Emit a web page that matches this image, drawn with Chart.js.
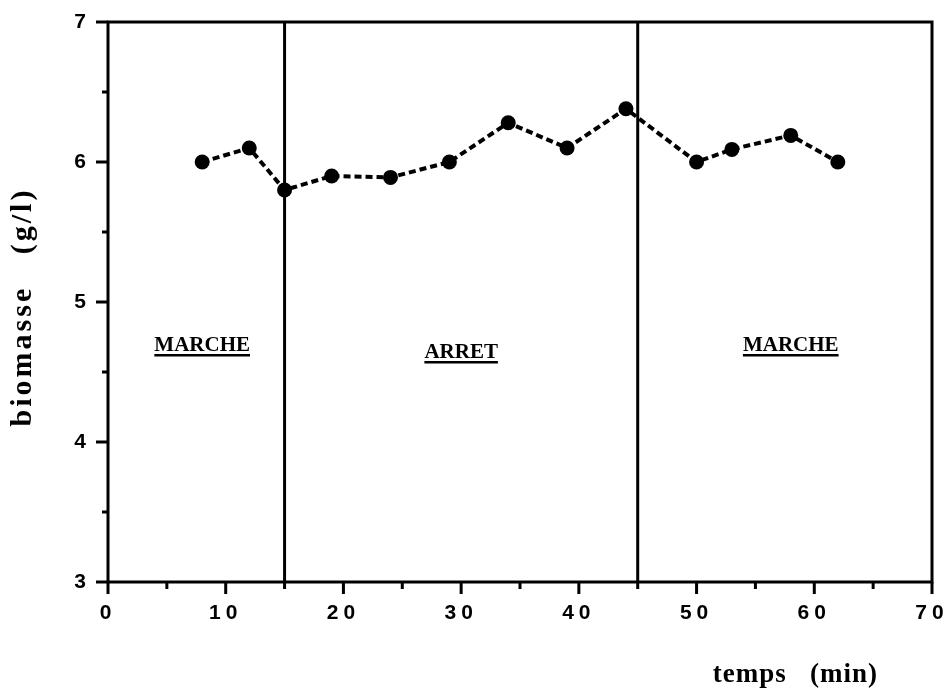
<!DOCTYPE html>
<html>
<head>
<meta charset="utf-8">
<script src="https://cdn.jsdelivr.net/npm/chart.js@4.4.0/dist/chart.umd.min.js"></script>
<style>
  html, body { margin: 0; padding: 0; background: #fff; }
</style>
</head>
<body>
<canvas id="chart" width="950" height="690"></canvas>
<script>
// mesures de biomasse
const temps = [8, 12, 15, 19, 24, 29, 34, 39, 44, 50, 53, 58, 62];
const biomasse = [6.0, 6.1, 5.8, 5.9, 5.89, 6.0, 6.28, 6.1, 6.38, 6.0, 6.09, 6.19, 6.0];

// limites des phases (min)
const coupures = [15, 45];
const phases = ['MARCHE', 'ARRET', 'MARCHE'];
const phasesX = [8, 30, 58];
const phasesY = [4.65, 4.6, 4.65];

// axes
const xMin = 0, xMax = 70, xStep = 5;
const yMin = 3, yMax = 7, yStep = 0.5;

const decor = {
  id: 'decor',
  beforeDraw(chart) {
    // chiffres espaces comme sur l'original
    chart.ctx.letterSpacing = '5px';
  },
  afterDraw(chart) {
    const ctx = chart.ctx;
    const a = chart.chartArea;
    const x = chart.scales.x, y = chart.scales.y;
    ctx.save();
    ctx.letterSpacing = '0px';
    ctx.strokeStyle = '#000';
    ctx.fillStyle = '#000';
    ctx.lineWidth = 3;
    ctx.strokeRect(a.left, a.top, a.right - a.left, a.bottom - a.top);

    // graduations
    ctx.beginPath();
    x.ticks.forEach(t => {
      const px = x.getPixelForValue(t.value);
      const len = t.value % 10 === 0 ? 12 : 7;
      ctx.moveTo(px, a.bottom);
      ctx.lineTo(px, a.bottom + len);
    });
    y.ticks.forEach(t => {
      const py = y.getPixelForValue(t.value);
      const len = Number.isInteger(t.value) ? 12 : 6;
      ctx.moveTo(a.left, py);
      ctx.lineTo(a.left - len, py);
    });
    ctx.stroke();

    // etiquettes des phases
    ctx.font = 'bold 21px "Liberation Serif"';
    ctx.textAlign = 'center';
    ctx.textBaseline = 'alphabetic';
    phases.forEach((txt, i) => {
      const px = x.getPixelForValue(phasesX[i]);
      const py = y.getPixelForValue(phasesY[i]);
      ctx.fillText(txt, px, py);
      const w = ctx.measureText(txt).width;
      ctx.fillRect(px - w / 2, py + 3, w, 2.5);
    });

    // titre axe x
    ctx.font = 'bold 27px "Liberation Serif"';
    ctx.letterSpacing = '1px';
    ctx.textAlign = 'right';
    ctx.fillText('temps   (min)', 878, 682);

    // titre axe y
    ctx.translate(23, 307);
    ctx.rotate(-Math.PI / 2);
    ctx.font = 'bold 30px "Liberation Serif"';
    ctx.letterSpacing = '3px';
    ctx.textAlign = 'center';
    ctx.textBaseline = 'middle';
    ctx.fillText('biomasse   (g/l)', 0, 0);
    ctx.restore();
  }
};

const ctx = document.getElementById('chart').getContext('2d');
new Chart(ctx, {
  type: 'scatter',
  data: {
    datasets: [
      {
        data: temps.map((t, i) => ({ x: t, y: biomasse[i] })),
        showLine: true,
        borderColor: '#000',
        borderWidth: 4,
        borderDash: [7, 4],
        pointRadius: 7.5,
        pointBackgroundColor: '#000',
        pointBorderWidth: 0
      },
      ...coupures.map(c => ({
        data: [{ x: c, y: yMin }, { x: c, y: yMax }],
        showLine: true,
        borderColor: '#000',
        borderWidth: 3,
        pointRadius: 0
      }))
    ]
  },
  options: {
    responsive: false,
    animation: false,
    devicePixelRatio: 1,
    layout: { padding: { top: 22, right: 18, left: 0, bottom: 0 } },
    plugins: { legend: { display: false }, tooltip: { enabled: false } },
    scales: {
      x: {
        type: 'linear',
        min: xMin, max: xMax,
        afterFit: s => { s.height = 108; s.paddingLeft = 0; s.paddingRight = 0; },
        grid: { display: false, drawTicks: false },
        border: { display: false },
        ticks: {
          stepSize: xStep,
          autoSkip: false,
          maxRotation: 0,
          padding: 19,
          color: '#000',
          font: { family: '"Liberation Sans"', size: 21, weight: 'bold' },
          callback: v => (v % 10 === 0 ? v : '')
        }
      },
      y: {
        type: 'linear',
        min: yMin, max: yMax,
        afterFit: s => { s.width = 108; s.paddingTop = 0; s.paddingBottom = 0; },
        grid: { display: false, drawTicks: false },
        border: { display: false },
        ticks: {
          stepSize: yStep,
          autoSkip: false,
          padding: 17,
          color: '#000',
          font: { family: '"Liberation Sans"', size: 21, weight: 'bold' },
          callback: v => (Number.isInteger(v) ? v : '')
        }
      }
    }
  },
  plugins: [decor]
});
</script>
</body>
</html>
